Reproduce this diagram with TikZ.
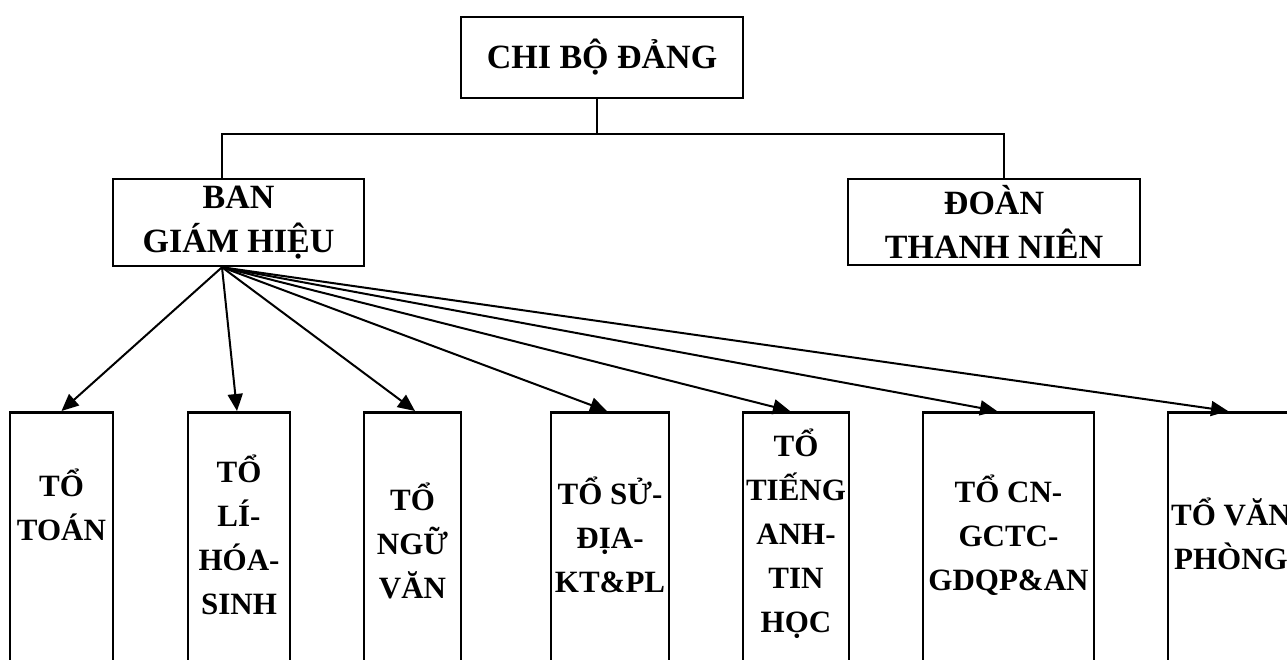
\documentclass[tikz,border=0pt]{standalone}
\usepackage{fontspec}
\setmainfont{Liberation Serif}
\usetikzlibrary{arrows.meta,calc}
\begin{document}
\begin{tikzpicture}[x=1pt,y=-1pt,
  topbox/.style={draw,line width=2.5pt,inner sep=0pt,align=center,
    font=\bfseries\fontsize{34}{44}\selectfont},
  botbox/.style={draw,line width=2.5pt,anchor=north,minimum height=280pt,inner sep=0pt},
  bottxt/.style={align=center,inner sep=0pt,font=\bfseries\fontsize{31}{44}\selectfont},
  link/.style={line width=2pt},
  arr/.style={line width=2pt,-{Triangle[length=17pt,width=15pt]}}]
\clip (0,0) rectangle (1287,660);
\fill[white] (0,0) rectangle (1287,660);
% top level
\node[topbox,minimum width=282pt,minimum height=81pt] (chi) at (602,57.5) {CHI BỘ ĐẢNG};
\node[topbox,minimum width=251pt,minimum height=87pt] (bgh) at (238.5,222.5) {BAN\\GIÁM HIỆU};
\node[topbox,minimum width=292pt,minimum height=86pt] (dtn) at (994,222) {ĐOÀN\\THANH NIÊN};
\coordinate (j) at (597,134);
\coordinate (o) at ($(bgh.south)+(-16.5,0)$);
\coordinate (r) at (1004,134);
\draw[link] (chi.south -| j) -- (j);
\draw[link] (bgh.north -| o) |- (r) -- (dtn.north -| r);
% bottom boxes
\node[botbox,minimum width=103pt] (b1) at (61.5,411) {};
\node[botbox,minimum width=102pt] (b2) at (239,411) {};
\node[botbox,minimum width=97pt]  (b3) at (412.5,411) {};
\node[botbox,minimum width=118pt] (b4) at (610,411) {};
\node[botbox,minimum width=106pt] (b5) at (796,411) {};
\node[botbox,minimum width=171pt] (b6) at (1008.5,411) {};
\node[botbox,minimum width=126pt] (b7) at (1231,411) {};
\node[bottxt] (t1) at (61.5,505) {TỔ\\TOÁN};
\node[bottxt] (t2) at (239,535) {TỔ\\LÍ-\\HÓA-\\SINH};
\node[bottxt] (t3) at (412.5,541) {TỔ\\NGỮ\\VĂN};
\node[bottxt] (t4) at (610,535) {TỔ SỬ-\\ĐỊA-\\KT\&PL};
\node[bottxt] (t5) at (796,534) {TỔ\\TIẾNG\\ANH-\\TIN\\HỌC};
\node[bottxt] (t6) at (1008.5,535) {TỔ CN-\\GCTC-\\GDQP\&AN};
\node[bottxt] (t7) at (1231,534) {TỔ VĂN\\PHÒNG};
% arrows
\draw[arr] (o) -- (b1.north);
\draw[arr] (o) -- ($(b2.north)+(-2,0)$);
\draw[arr] (o) -- ($(b3.north)+(2.5,0)$);
\draw[arr] (o) -- ($(b4.north)+(-3,0)$);
\draw[arr] (o) -- ($(b5.north)+(-6,0)$);
\draw[arr] (o) -- ($(b6.north)+(-11.5,0)$);
\draw[arr] (o) -- ($(b7.north)+(-3,0)$);
\end{tikzpicture}
\end{document}
